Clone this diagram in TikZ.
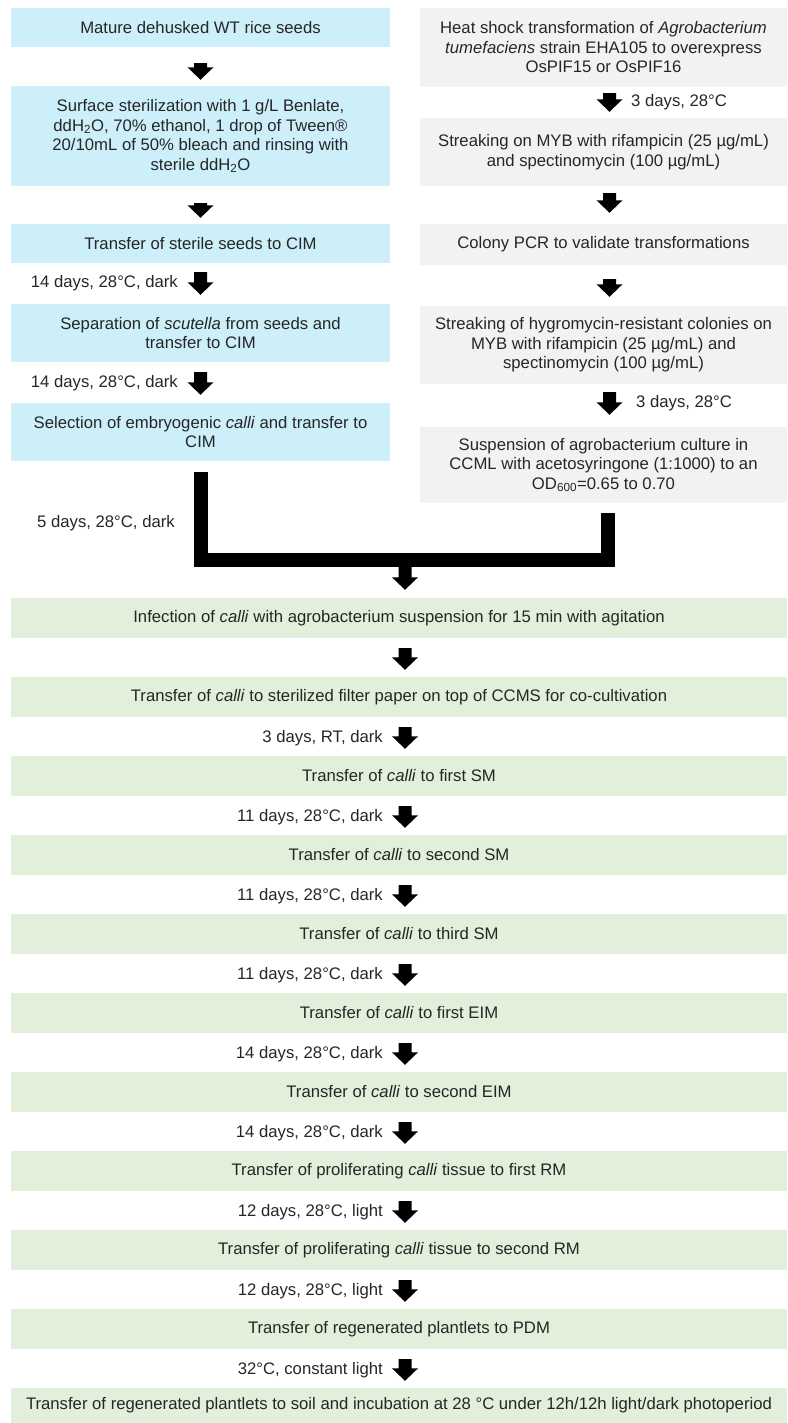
\documentclass[tikz,border=0pt]{standalone}
\usepackage{fontspec}
\setmainfont{Liberation Sans}
\usetikzlibrary{calc}
\definecolor{bluefill}{RGB}{204,239,250}
\definecolor{grayfill}{RGB}{242,242,242}
\definecolor{greenfill}{RGB}{226,239,218}
\definecolor{txt}{RGB}{38,38,38}
\newcommand\barrow[2]{\fill[black] let \p1=#1, \p2=#2 in (\x1-6.5pt,\y1) -- (\x1+6.5pt,\y1) -- (\x1+6.5pt,\y2+12.5pt) -- (\x1+13pt,\y2+12.5pt) -- (\x1,\y2) -- (\x1-13pt,\y2+12.5pt) -- (\x1-6.5pt,\y2+12.5pt) -- cycle;}
\tikzset{
 box/.style={rectangle, draw=none, inner sep=0pt, align=center, text=txt, font=\fontsize{16.7}{19.5}\selectfont},
 bbox/.style={box, fill=bluefill, minimum width=379pt},
 gbox/.style={box, fill=grayfill, minimum width=367pt},
 grbox/.style={box, fill=greenfill, minimum width=776pt, minimum height=40pt},
 lbl/.style={text=txt, font=\fontsize{16.7}{19.5}\selectfont, inner sep=0pt},
 bar/.style={line width=14pt, line join=miter, black},
}
\begin{document}
\begin{tikzpicture}[x=1pt,y=-1pt]
\useasboundingbox (0,0) rectangle (787,1423);
% columns
\coordinate (xl) at (200.5,0);
\coordinate (xr) at (609.5,0);
\coordinate (xb) at (608,0);
\coordinate (xm) at (405,0);
\coordinate (jn) at (405,559.5);
% left (blue) column
\node[bbox, minimum height=39pt] (b1) at (200.5,27.5) {Mature dehusked WT rice seeds};
\node[bbox, minimum height=100pt] (b2) at (200.5,136) {Surface sterilization with 1 g/L Benlate,\\ ddH\textsubscript{2}O, 70\% ethanol, 1 drop of Tween®\\ 20/10mL of 50\% bleach and rinsing with\\ sterile ddH\textsubscript{2}O};
\node[bbox, minimum height=39pt] (b3) at (200.5,243.5) {Transfer of sterile seeds to CIM};
\node[bbox, minimum height=58pt] (b4) at (200.5,333) {Separation of \textit{scutella} from seeds and\\ transfer to CIM};
\node[bbox, minimum height=58pt] (b5) at (200.5,432) {Selection of embryogenic \textit{calli} and transfer to\\ CIM};
% right (gray) column
\node[gbox, minimum height=79pt] (r1) at (603.5,47.5) {Heat shock transformation of \textit{Agrobacterium}\\ \textit{tumefaciens} strain EHA105 to overexpress\\ OsPIF15 or OsPIF16};
\node[gbox, minimum height=68pt] (r2) at (603.5,152) {Streaking on MYB with rifampicin (25 µg/mL)\\ and spectinomycin (100 µg/mL)};
\node[gbox, minimum height=41pt] (r3) at (603.5,244.5) {Colony PCR to validate transformations};
\node[gbox, minimum height=78pt] (r4) at (603.5,345) {Streaking of hygromycin-resistant colonies on\\ MYB with rifampicin (25 µg/mL) and\\ spectinomycin (100 µg/mL)};
\node[gbox, minimum height=76pt] (r5) at (603.5,465) {Suspension of agrobacterium culture in\\ CCML with acetosyringone (1:1000) to an\\ OD\textsubscript{600}=0.65 to 0.70};
% green column
\node[grbox] (g1) at (399,618) {Infection of \textit{calli} with agrobacterium suspension for 15 min with agitation};
\node[grbox] (g2) at (399,697) {Transfer of \textit{calli} to sterilized filter paper on top of CCMS for co-cultivation};
\node[grbox] (g3) at (399,776) {Transfer of \textit{calli} to first SM};
\node[grbox] (g4) at (399,855) {Transfer of \textit{calli} to second SM};
\node[grbox] (g5) at (399,934) {Transfer of \textit{calli} to third SM};
\node[grbox] (g6) at (399,1013) {Transfer of \textit{calli} to first EIM};
\node[grbox] (g7) at (399,1092) {Transfer of \textit{calli} to second EIM};
\node[grbox] (g8) at (399,1171) {Transfer of proliferating \textit{calli} tissue to first RM};
\node[grbox] (g9) at (399,1250) {Transfer of proliferating \textit{calli} tissue to second RM};
\node[grbox] (g10) at (399,1329) {Transfer of regenerated plantlets to PDM};
\node[grbox, minimum height=35pt] (g11) at (399,1405.5) {Transfer of regenerated plantlets to soil and incubation at 28 °C under 12h/12h light/dark photoperiod};
% left arrows
\barrow{([yshift=-16pt]b1.south -| xl)}{([yshift=6pt]b2.north -| xl)}
\barrow{([yshift=-17pt]b2.south -| xl)}{([yshift=6pt]b3.north -| xl)}
\barrow{([yshift=-9pt]b3.south -| xl)}{([yshift=9pt]b4.north -| xl)}
\barrow{([yshift=-10pt]b4.south -| xl)}{([yshift=8pt]b5.north -| xl)}
\node[lbl, anchor=east] (l1) at (178,283.5) {14 days, 28°C, dark};
\node[lbl, anchor=east] (l2) at (178,383.5) {14 days, 28°C, dark};
% right arrows
\barrow{([yshift=-6pt]r1.south -| xr)}{([yshift=6pt]r2.north -| xr)}
\barrow{([yshift=-7pt]r2.south -| xr)}{([yshift=11pt]r3.north -| xr)}
\barrow{([yshift=-14pt]r3.south -| xr)}{([yshift=9pt]r4.north -| xr)}
\barrow{([yshift=-8pt]r4.south -| xr)}{([yshift=12pt]r5.north -| xr)}
\node[lbl, anchor=west] (l3) at (631,102.5) {3 days, 28°C};
\node[lbl, anchor=west] (l4) at (636,403.5) {3 days, 28°C};
% merge
\draw[bar] ([yshift=-11pt]b5.south -| xl) |- (jn) -| ([yshift=-10pt]r5.south -| xb);
\barrow{(jn)}{([yshift=8pt]g1.north -| xm)}
\node[lbl, anchor=west] (l5) at (37,523) {5 days, 28°C, dark};
% green arrows
\barrow{([yshift=-10pt]g1.south -| xm)}{([yshift=7pt]g2.north -| xm)}
\barrow{([yshift=-10pt]g2.south -| xm)}{([yshift=7pt]g3.north -| xm)}
\barrow{([yshift=-10pt]g3.south -| xm)}{([yshift=7pt]g4.north -| xm)}
\barrow{([yshift=-10pt]g4.south -| xm)}{([yshift=7pt]g5.north -| xm)}
\barrow{([yshift=-10pt]g5.south -| xm)}{([yshift=7pt]g6.north -| xm)}
\barrow{([yshift=-10pt]g6.south -| xm)}{([yshift=7pt]g7.north -| xm)}
\barrow{([yshift=-10pt]g7.south -| xm)}{([yshift=7pt]g8.north -| xm)}
\barrow{([yshift=-10pt]g8.south -| xm)}{([yshift=7pt]g9.north -| xm)}
\barrow{([yshift=-10pt]g9.south -| xm)}{([yshift=7pt]g10.north -| xm)}
\barrow{([yshift=-10pt]g10.south -| xm)}{([yshift=7pt]g11.north -| xm)}
\node[lbl, anchor=east] (m2) at (383,738) {3 days, RT, dark};
\node[lbl, anchor=east] (m3) at (383,817) {11 days, 28°C, dark};
\node[lbl, anchor=east] (m4) at (383,896) {11 days, 28°C, dark};
\node[lbl, anchor=east] (m5) at (383,975) {11 days, 28°C, dark};
\node[lbl, anchor=east] (m6) at (383,1054) {14 days, 28°C, dark};
\node[lbl, anchor=east] (m7) at (383,1133) {14 days, 28°C, dark};
\node[lbl, anchor=east] (m8) at (383,1212) {12 days, 28°C, light};
\node[lbl, anchor=east] (m9) at (383,1291) {12 days, 28°C, light};
\node[lbl, anchor=east] (m10) at (383,1370) {32°C, constant light};
\end{tikzpicture}
\end{document}
